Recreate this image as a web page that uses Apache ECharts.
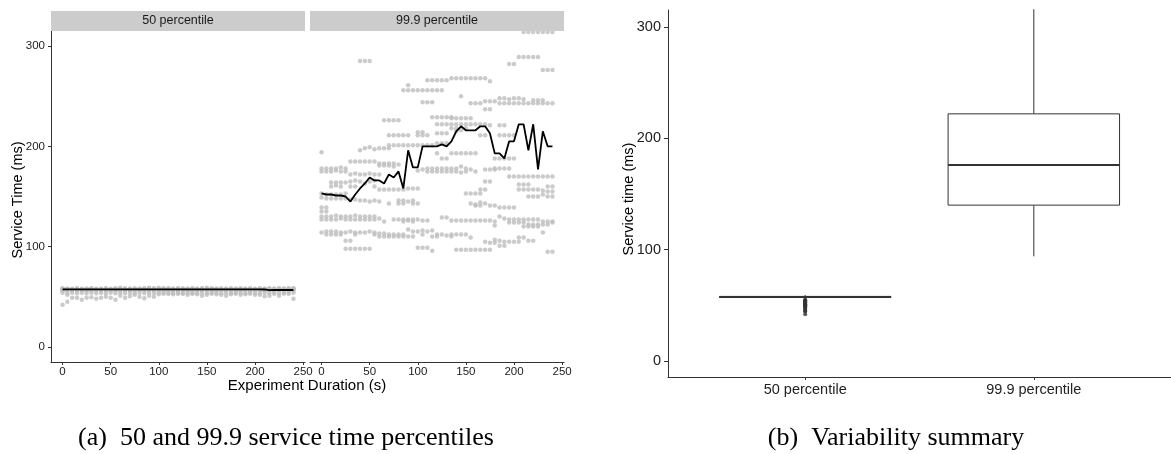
<!DOCTYPE html>
<html><head><meta charset="utf-8">
<script src="https://cdn.jsdelivr.net/npm/echarts@6/dist/echarts.min.js"></script>
<style>html,body{margin:0;padding:0;background:#fff}#c{width:1171px;height:454px}</style>
</head><body><div id="c"></div>
<script>
// ---------------- data ----------------
const timeSteps = [0,5,10,15,20,25,30,35,40,45,50,55,60,65,70,75,80,85,90,95,100,105,110,115,120,125,130,135,140,145,150,155,160,165,170,175,180,185,190,195,200,205,210,215,220,225,230,235,240];
const panelTitles = ['50 percentile', '99.9 percentile'];
const xTicks = [0, 50, 100, 150, 200, 250];
const yTicks = [0, 100, 200, 300];

// 50th percentile service time samples (ms) per time step
const p50Samples = [
 [58.5,58,57.5,57.5,57,57,56.5,54,42],
 [58,58,57.5,57,57,56.5,54,52,45],
 [58,57.5,57.5,57,57,56.5,54,49],
 [58.5,58,57.5,57,57,56.5,53.5,49],
 [58,57.5,57.5,57,57,56.5,54,47],
 [58,58,57.5,57,56.5,56.5,53.5,49],
 [58.5,58,57.5,57,57,56.5,54,49.5],
 [58,57.5,57.5,57,57,56.5,53.5,48],
 [58,58,57.5,57,57,56.5,54,49],
 [58.5,58,57.5,57,56.5,56.5,53.5,50],
 [58,57.5,57.5,57,57,56.5,54,49],
 [58.5,58,57.5,57,57,56.5,53.5,47],
 [59,58,57.5,57,57,56.5,54,51],
 [58.5,58,57.5,57,57,56.5,53.5,49],
 [58,58,57.5,57,56.5,56.5,54,50.5],
 [58.5,57.5,57.5,57,57,56.5,53.5,52],
 [58,58,57.5,57,57,56.5,54,50],
 [58.5,58,57.5,57,57,56.5,53.5,48.5],
 [59,58,57.5,57,57,56.5,54,51],
 [58.5,58,57.5,57,56.5,56.5,53.5,50],
 [59,58,57.5,57,57,56.5,54,52.5],
 [58.5,58,57.5,57,57,56.5,54,53],
 [58.5,58,57.5,57,57,56.5,53.5,53],
 [58,58,57.5,57,57,56.5,54,52.5],
 [58.5,58,57.5,57,57,56.5,54,53],
 [58.5,57.5,57.5,57,57,56.5,53.5,53],
 [58,58,57.5,57,57,56.5,54,52],
 [58.5,58,57.5,57,56.5,56.5,53.5,53],
 [58,58,57.5,57,57,56.5,54,52.5],
 [58.5,58,57.5,57,57,56.5,54,51],
 [59,58,57.5,57,57,56.5,53.5,52],
 [58.5,58,57.5,57,57,56.5,54,53],
 [58,58,57.5,57,57,56.5,54,52.5],
 [58.5,57.5,57.5,57,57,56.5,53.5,52],
 [58,58,57.5,57,56.5,56.5,54,51],
 [58.5,58,57.5,57,57,56.5,53.5,52.5],
 [58,58,57.5,57,57,56.5,54,53],
 [58.5,58,57.5,57,57,56.5,54,52],
 [58,58,57.5,57,57,56.5,53.5,52.5],
 [58.5,58,57.5,57,57,56.5,54,53],
 [58,57.5,57.5,57,57,56.5,54,52],
 [58.5,58,57.5,57,56.5,56.5,53.5,52],
 [58,58,57.5,57,57,56.5,54,50.5],
 [58.5,58,57.5,57,56.5,56,53.5,51],
 [58,58,57.5,57,57,56.5,54,53],
 [58.5,58,57.5,57,57,56.5,53.5,51],
 [58,58,57.5,57,57,56.5,54,53],
 [58.5,58,57.5,57,57,56.5,54,53],
 [58.5,58,57.5,57,57,56.5,54,48]
];
const p50Line = [57.4,57.4,57.4,57.4,57.4,57.4,57.4,57.4,57.4,57.4,57.4,57.4,57.5,57.5,57.5,57.5,57.5,57.5,57.5,57.5,57.5,57.5,57.5,57.5,57.5,57.5,57.5,57.5,57.5,57.5,57.5,57.5,57.5,57.5,57.5,57.5,57.5,57.5,57.5,57.5,57.5,57.4,57.3,56.6,56.8,56.8,56.8,56.8,56.8];

// 99.9th percentile service time samples (ms) per time step
const p999Samples = [
 [194,178,175,153,149,139,135,130,127,114],
 [178,175,152,148,135,130,127,115,112,139],
 [178,175,164,152,148,130,127,115,112,160],
 [178,176,164,152,148,131,127,115,112,161],
 [179,175,164,152,148,130,128,114,112,160],
 [178,175,164,153,148,130,127,114,106,98],
 [185,172,165,160,147,130,127,115,106,98],
 [185,173,166,160,147,131,127,114,112,98],
 [285,196,185,172,165,146,130,127,114,98],
 [285,198,185,172,163,146,130,127,114,98],
 [285,199,185,173,165,145,130,127,115,98],
 [197,185,172,166,160,146,130,127,114,112],
 [198,183,181,172,157,145,128,113,110],
 [226,198,183,181,157,125,113,110],
 [226,211,201,198,183,181,157,143,112,110],
 [226,211,201,183,180,157,127,112,110],
 [226,211,201,182,157,146,143,127,112,110],
 [256,211,201,157,146,143,127,125,112,110],
 [261,256,211,201,158,145,127,126,117,110],
 [256,201,158,146,143,127,125,115,110],
 [256,214,211,201,176,158,143,127,115,99],
 [256,244,214,211,201,177,126,116,112,99],
 [266,256,244,211,201,178,175,126,115,99],
 [266,256,244,229,201,178,175,116,110,96],
 [266,256,229,222,213,203,193,178,175,112,110],
 [266,256,229,222,213,203,188,178,175,129,112],
 [266,229,222,213,203,188,178,175,129,111],
 [268,229,228,222,218,193,178,175,126,112,110],
 [268,228,222,218,215,193,178,175,126,112,97],
 [268,250,228,222,216,193,180,174,126,112,97],
 [268,228,222,218,193,178,175,153,126,112,97],
 [268,243,228,222,193,177,153,143,126,109,97],
 [268,243,222,193,175,153,142,141,126,97],
 [268,243,222,211,157,153,144,141,126,97],
 [268,245,237,222,211,177,165,157,143,126,105,97],
 [265,245,237,221,177,165,141,126,104,97],
 [245,188,178,177,141,125,121,107,104],
 [248,243,221,211,188,178,139,130,106,101],
 [248,243,221,211,188,178,139,128,105,101],
 [282,247,243,211,188,178,170,139,127,124,105],
 [282,248,243,211,188,170,139,127,124,105],
 [289,248,243,170,162,157,127,124,109,105],
 [314,289,247,243,170,162,157,127,124,120,109],
 [314,289,243,170,162,157,150,127,122,120,106],
 [314,289,246,243,170,157,150,127,122,120,106],
 [314,289,246,243,170,157,150,127,122,120],
 [314,276,246,243,170,156,152,125,122,114],
 [314,276,243,170,160,155,150,125,122,95],
 [314,276,243,170,160,155,150,125,124,95]
];
const p999Line = [153,152,152,151,151,150,145,152,158,163,169,166,166,163,172,169,175,158,196,179,179,200,200,200,200,202,200,205,215,220,216,216,216,220,220,213,193,193,188,205,205,222,222,196,222,177,215,200,200];

// Variability summary (b): [lower whisker, Q1, median, Q3, upper whisker]
const boxCategories = ['50 percentile', '99.9 percentile'];
const box50 = [55.5, 57, 57.5, 58, 59.3];
const box999 = [94, 140, 176, 222, 316];
const outliers50 = [55, 54.5, 54, 53.5, 53, 52.5, 52, 51.5, 51, 50.5, 50, 49.5, 49, 48.5, 48, 47, 46, 45, 44.5, 42];

const captionA = '(a)  50 and 99.9 service time percentiles';
const captionB = '(b)  Variability summary';

// ---------------- build ----------------
function toPoints(samples) {
  const out = [];
  samples.forEach((vals, i) => vals.forEach(v => out.push([timeSteps[i], v])));
  return out;
}
function toLine(vals) { return vals.map((v, i) => [timeSteps[i], v]); }

const FONT = 'Liberation Sans, Arial, sans-serif';
const SERIF = 'Liberation Serif, Times New Roman, serif';
const AX = '#333333';

function panelX(idx) {
  return {
    gridIndex: idx, type: 'value', min: -12, max: 252,
    axisLine: { show: true, onZero: false, lineStyle: { color: AX, width: 1 } },
    axisTick: { show: true, customValues: xTicks, length: 3, lineStyle: { color: AX } },
    axisLabel: { customValues: xTicks, fontSize: 11.5, color: '#222', margin: 4, fontFamily: FONT },
    splitLine: { show: false }
  };
}
function panelY(idx, show) {
  return {
    gridIndex: idx, type: 'value', min: -15, max: 315,
    axisLine: { show: show, onZero: false, lineStyle: { color: AX, width: 1 } },
    axisTick: { show: show, customValues: yTicks, length: 3, lineStyle: { color: AX } },
    axisLabel: { show: show, customValues: yTicks, fontSize: 11.5, color: '#222', margin: 6, fontFamily: FONT },
    splitLine: { show: false }
  };
}

const boxData = [[1].concat(box50), [2].concat(box999)];

const option = {
  animation: false,
  backgroundColor: '#fff',
  grid: [
    { left: 51, top: 31, width: 254, height: 331 },
    { left: 310, top: 31, width: 254, height: 331 },
    { left: 668, top: 10, width: 503, height: 367 }
  ],
  xAxis: [
    panelX(0), panelX(1),
    {
      gridIndex: 2, type: 'value', min: 0.4, max: 2.6,
      axisLine: { show: true, onZero: false, lineStyle: { color: AX, width: 1 } },
      axisTick: { show: true, customValues: [1, 2], length: 3, lineStyle: { color: AX } },
      axisLabel: { customValues: [1, 2], fontSize: 14.5, color: '#222', margin: 5, fontFamily: FONT,
        formatter: v => boxCategories[Math.round(v) - 1] },
      splitLine: { show: false }
    }
  ],
  yAxis: [
    panelY(0, true), panelY(1, false),
    {
      gridIndex: 2, type: 'value', min: -14.4, max: 315.3,
      axisLine: { show: true, onZero: false, lineStyle: { color: AX, width: 1 } },
      axisTick: { show: true, customValues: yTicks, length: 4, lineStyle: { color: AX } },
      axisLabel: { customValues: yTicks, fontSize: 14.5, color: '#222', margin: 7, fontFamily: FONT },
      splitLine: { show: false }
    }
  ],
  graphic: [
    { type: 'rect', shape: { x: 51, y: 11, width: 254, height: 20 }, style: { fill: '#CCCCCC' }, silent: true, z: 10 },
    { type: 'rect', shape: { x: 310, y: 11, width: 254, height: 20 }, style: { fill: '#CCCCCC' }, silent: true, z: 10 },
    { type: 'text', x: 178, y: 21, z: 11, style: { text: panelTitles[0], fontSize: 12.5, fontFamily: FONT, fill: '#1a1a1a', textAlign: 'center', textVerticalAlign: 'middle' } },
    { type: 'text', x: 437, y: 21, z: 11, style: { text: panelTitles[1], fontSize: 12.5, fontFamily: FONT, fill: '#1a1a1a', textAlign: 'center', textVerticalAlign: 'middle' } },
    { type: 'text', x: 307, y: 386, style: { text: 'Experiment Duration (s)', fontSize: 15, fontFamily: FONT, fill: '#000', textAlign: 'center', textVerticalAlign: 'middle' } },
    { type: 'text', x: 18, y: 200, rotation: Math.PI / 2, style: { text: 'Service Time (ms)', fontSize: 14.5, fontFamily: FONT, fill: '#000', textAlign: 'center', textVerticalAlign: 'middle' } },
    { type: 'text', x: 629, y: 199, rotation: Math.PI / 2, style: { text: 'Service time (ms)', fontSize: 14.5, fontFamily: FONT, fill: '#000', textAlign: 'center', textVerticalAlign: 'middle' } },
    { type: 'text', x: 286, y: 438, style: { text: captionA, fontSize: 26, fontFamily: SERIF, fill: '#000', textAlign: 'center', textVerticalAlign: 'middle' } },
    { type: 'text', x: 896, y: 438, style: { text: captionB, fontSize: 26, fontFamily: SERIF, fill: '#000', textAlign: 'center', textVerticalAlign: 'middle' } }
  ],
  series: [
    { type: 'scatter', xAxisIndex: 0, yAxisIndex: 0, data: toPoints(p50Samples), symbolSize: 4.5,
      itemStyle: { color: '#BEBEBE' }, silent: true, z: 2 },
    { type: 'line', xAxisIndex: 0, yAxisIndex: 0, data: toLine(p50Line), showSymbol: false, symbol: 'none',
      lineStyle: { color: '#000', width: 1.8 }, silent: true, z: 3 },
    { type: 'scatter', xAxisIndex: 1, yAxisIndex: 1, data: toPoints(p999Samples), symbolSize: 4.5,
      itemStyle: { color: '#BEBEBE' }, silent: true, z: 2, clip: false },
    { type: 'line', xAxisIndex: 1, yAxisIndex: 1, data: toLine(p999Line), showSymbol: false, symbol: 'none',
      lineStyle: { color: '#000', width: 1.8 }, silent: true, z: 3 },
    { type: 'custom', xAxisIndex: 2, yAxisIndex: 2, data: boxData, silent: true, z: 2,
      renderItem: function (params, api) {
        const x = api.value(0), mn = api.value(1), q1 = api.value(2), md = api.value(3), q3 = api.value(4), mx = api.value(5);
        const half = 0.375;
        const c = api.coord([x, md]);
        const tl = api.coord([x - half, q3]);
        const br = api.coord([x + half, q1]);
        const top = api.coord([x, mx]);
        const bot = api.coord([x, mn]);
        const ml = api.coord([x - half, md]);
        const mr = api.coord([x + half, md]);
        const st = { stroke: AX, lineWidth: 1, fill: null };
        return { type: 'group', children: [
          { type: 'line', shape: { x1: c[0], y1: top[1], x2: c[0], y2: tl[1] }, style: st },
          { type: 'line', shape: { x1: c[0], y1: br[1], x2: c[0], y2: bot[1] }, style: st },
          { type: 'rect', shape: { x: tl[0], y: tl[1], width: br[0] - tl[0], height: br[1] - tl[1] }, style: { stroke: AX, lineWidth: 1, fill: '#fff' } },
          { type: 'line', shape: { x1: ml[0], y1: ml[1], x2: mr[0], y2: mr[1] }, style: { stroke: AX, lineWidth: 2 } }
        ] };
      }
    },
    { type: 'scatter', xAxisIndex: 2, yAxisIndex: 2, data: outliers50.map(v => [1, v]), symbolSize: 4,
      itemStyle: { color: '#333' }, silent: true, z: 3 }
  ]
};

const chart = echarts.init(document.getElementById('c'), null, { renderer: 'canvas' });
chart.setOption(option);
</script>
</body></html>
